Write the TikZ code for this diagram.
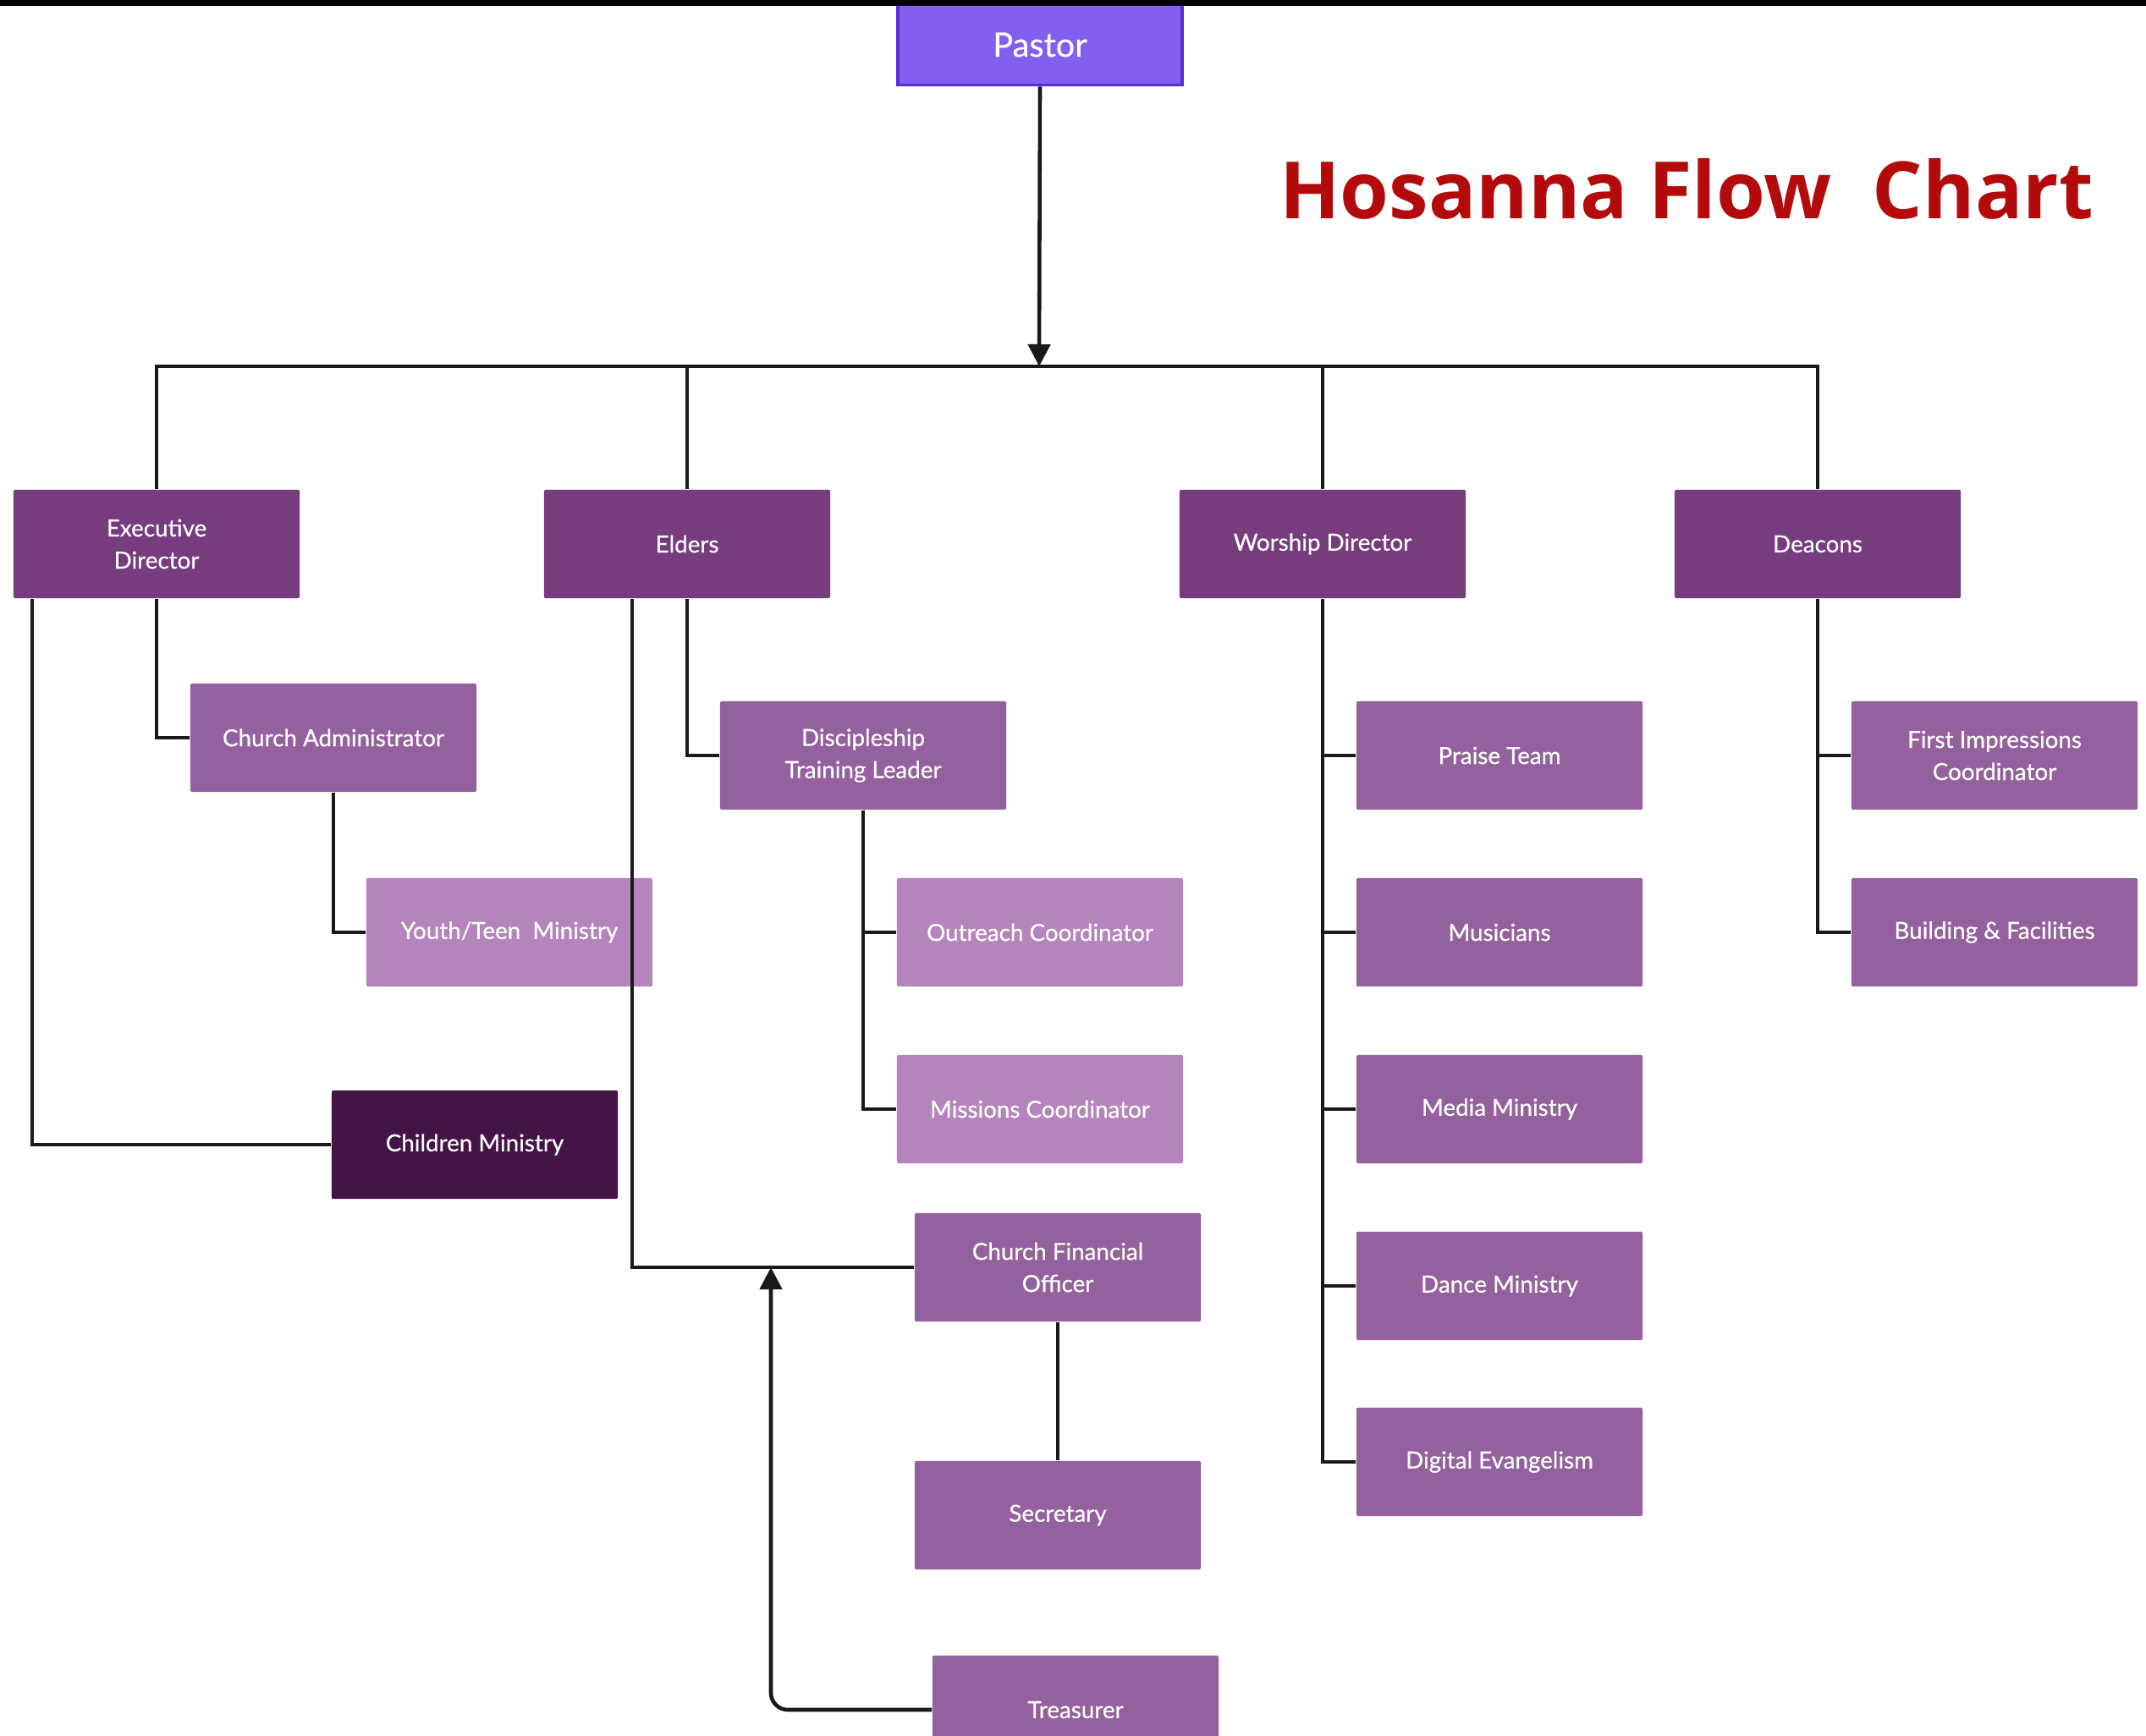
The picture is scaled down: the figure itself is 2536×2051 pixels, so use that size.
\documentclass[tikz,border=0pt]{standalone}
\usepackage{fontspec}
\setmainfont{Lato}
\newfontfamily\boxfont{Lato}[FakeBold=0.6]
\newfontfamily\titlefont{Open Sans}
\usetikzlibrary{arrows.meta}

\definecolor{pastorfill}{HTML}{845EEE}
\definecolor{pastorline}{HTML}{5B2BD8}
\definecolor{leadpurple}{HTML}{763C7E}
\definecolor{staffpurple}{HTML}{94609E}
\definecolor{helperpurple}{HTML}{B584BC}
\definecolor{kidspurple}{HTML}{441446}
\definecolor{titlered}{HTML}{B30B0B}

\tikzset{
  orgbox/.style={rectangle, rounded corners=0.02cm, minimum width=3.38cm,
    minimum height=1.28cm, inner sep=0pt, align=center, text=white,
    font=\boxfont\fontsize{7.9}{10.8}\selectfont},
  lead/.style={orgbox, fill=leadpurple},
  staff/.style={orgbox, fill=staffpurple},
  helper/.style={orgbox, fill=helperpurple},
  kids/.style={orgbox, fill=kidspurple},
  link/.style={line width=1.3pt, draw=black!90},
  linkarrow/.style={link, -{Triangle[length=0.26cm,width=0.26cm]}}
}

\begin{document}
\begin{tikzpicture}[x=0.01cm,y=-0.01cm]
\useasboundingbox (0,0) rectangle (2536,2051);
\clip (0,0) rectangle (2536,2051);

\node[draw=pastorline, line width=1pt, fill=pastorfill, minimum width=3.36cm,
  minimum height=0.95cm, inner sep=0pt, text=white,
  font=\boxfont\fontsize{11.3}{13}\selectfont] (pastor) at (1229,53) {Pastor};
\fill[black] (0,0) rectangle (2536,7);

\node[text=titlered, font=\titlefont\bfseries\fontsize{26.6}{30}\selectfont]
  (title) at (1993,223) {Hosanna Flow\ \ Chart};

\node[lead] (exec) at (185,643) {Executive\\Director};
\node[lead] (elders) at (812,643) {Elders};
\node[lead] (worship) at (1563,643) {Worship Director};
\node[lead] (deacons) at (2148,643) {Deacons};

\node[staff] (admin) at (394,872) {Church Administrator};
\node[helper] (youth) at (602,1102) {Youth/Teen\ \ Ministry};
\node[kids] (children) at (561,1353) {Children Ministry};

\node[staff] (dtl) at (1020,893) {Discipleship\\Training Leader};
\node[helper] (outreach) at (1229,1102) {Outreach Coordinator};
\node[helper] (missions) at (1229,1311) {Missions Coordinator};
\node[staff] (cfo) at (1250,1498) {Church Financial\\Officer};
\node[staff] (secretary) at (1250,1791) {Secretary};
\node[staff] (treasurer) at (1271,2021) {Treasurer};

\node[staff] (praise) at (1772,893) {Praise Team};
\node[staff] (musicians) at (1772,1102) {Musicians};
\node[staff] (media) at (1772,1311) {Media Ministry};
\node[staff] (dance) at (1772,1520) {Dance Ministry};
\node[staff] (digital) at (1772,1728) {Digital Evangelism};

\node[staff] (first) at (2357,893) {First Impressions\\Coordinator};
\node[staff] (building) at (2357,1102) {Building \& Facilities};

\coordinate (bus) at (1228,433);
\coordinate (join) at (911,1498);

% pastor to the four leads
\draw[linkarrow] (pastor.south) -- (bus);
\draw[link] (exec.north) -- (exec.north |- bus) -- (deacons.north |- bus)
  -- (deacons.north);
\draw[link] (elders.north) -- (elders.north |- bus);
\draw[link] (worship.north) -- (worship.north |- bus);

% executive director
\draw[link] (exec.south) |- (admin.west);
\draw[link] (admin.south) |- (youth.west);
\draw[link] (exec.south west) ++(23,0) |- (children.west);

% elders
\draw[link] (elders.south) |- (dtl.west);
\draw[link] (dtl.south) |- (outreach.west);
\draw[link] (dtl.south) |- (missions.west);
\draw[link] (elders.south west) ++(105,0) |- (cfo.west);
\draw[link] (cfo) -- (secretary);
\draw[linkarrow, rounded corners=0.2cm] (treasurer.west) -| (join);

% worship director
\draw[link] (worship.south) |- (praise.west);
\draw[link] (worship.south) |- (musicians.west);
\draw[link] (worship.south) |- (media.west);
\draw[link] (worship.south) |- (dance.west);
\draw[link] (worship.south) |- (digital.west);

% deacons
\draw[link] (deacons.south) |- (first.west);
\draw[link] (deacons.south) |- (building.west);
\end{tikzpicture}
\end{document}
